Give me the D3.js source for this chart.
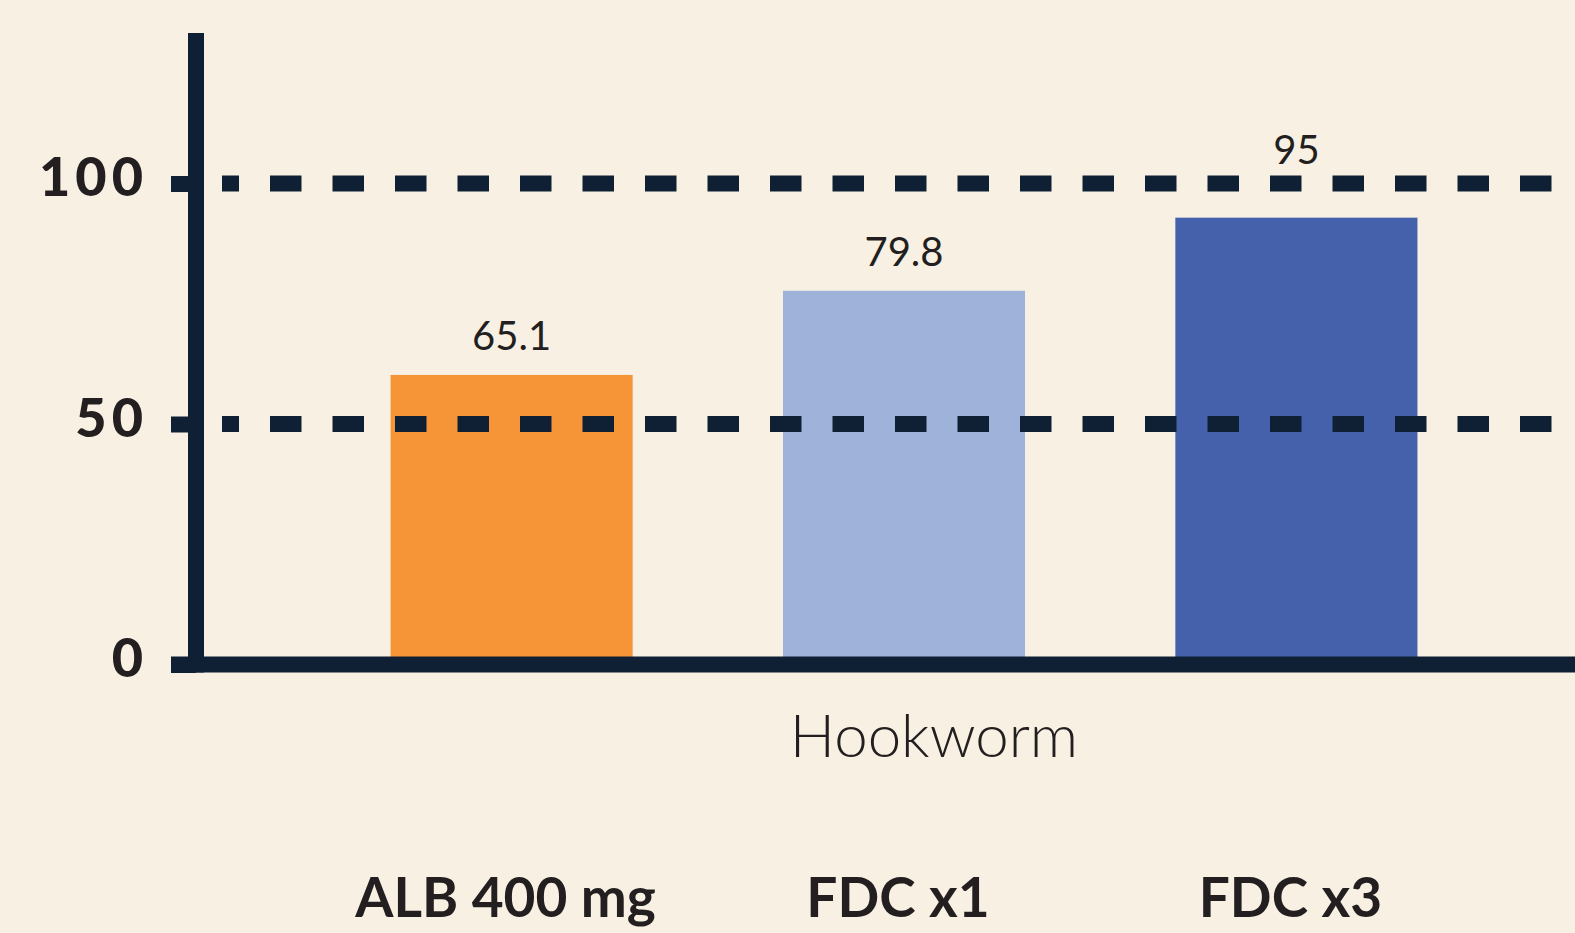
<!DOCTYPE html>
<html lang="en">
<head>
    <meta charset="UTF-8">
    <title>Hookworm</title>
    <script src="https://cdn.jsdelivr.net/npm/d3@7"></script>
    <style>
        body { margin: 0; background: #f8f1e3; }
        svg { display: block; }
    </style>
</head>
<body>
<div id="chart"></div>
<script>
    // data
    var categories = ['ALB 400 mg', 'FDC x1', 'FDC x3'];
    var barValues = [60.2, 77.7, 92.9];      // bar heights as drawn
    var valueLabels = ['65.1', '79.8', '95']; // printed labels
    var barColors = ['#f69537', '#9fb3da', '#4661ab'];
    var yTicks = [0, 50, 100];
    var groupTitle = 'Hookworm';

    var W = 1575, H = 933;
    var ink = '#0f2035', text = '#231f20';

    var svg = d3.select('#chart')
            .append('svg')
            .attr('width', W)
            .attr('height', H);

    var x = d3.scaleBand()
            .domain(categories)
            .range([316, 1492])
            .paddingInner(0.383)
            .paddingOuter(0.19);

    var y = d3.scaleLinear()
            .domain([0, 100])
            .range([664.5, 183.5]);

    // bars (drawn first, axis lines go on top)
    svg.append('g').selectAll('rect')
            .data(barValues)
            .enter()
            .append('rect')
            .attr('x', function(d, i){ return x(categories[i]); })
            .attr('width', x.bandwidth())
            .attr('y', function(d){ return y(d); })
            .attr('height', function(d){ return y(0) - y(d); })
            .attr('fill', function(d, i){ return barColors[i]; });

    // dashed gridlines
    var grid = yTicks.filter(function(t){ return t > 0; });
    svg.append('g').selectAll('line')
            .data(grid)
            .enter()
            .append('line')
            .attr('x1', 222).attr('x2', W)
            .attr('y1', function(d){ return y(d); })
            .attr('y2', function(d){ return y(d); })
            .attr('stroke', ink)
            .attr('stroke-width', 16)
            .attr('stroke-dasharray', '31.5 31')
            .attr('stroke-dashoffset', 14.5);

    // y axis with tick stubs
    var yAxis = d3.axisLeft(y)
            .tickValues(yTicks)
            .tickSize(25)
            .tickPadding(23)
            .tickFormat(d3.format('d'));

    var ya = svg.append('g')
            .attr('transform', 'translate(196,0)')
            .call(yAxis);
    ya.select('.domain').remove();
    ya.selectAll('.tick line')
            .attr('stroke', ink)
            .attr('stroke-width', 16);
    ya.selectAll('.tick text')
            .attr('fill', text)
            .attr('dy', null)
            .attr('y', 12)
            .style('font-family', 'Lato, sans-serif')
            .style('font-weight', 900)
            .style('font-size', '54px')
            .style('letter-spacing', '5px');

    svg.append('line')
            .attr('x1', 196).attr('x2', 196)
            .attr('y1', 33).attr('y2', y(0) + 8)
            .attr('stroke', ink)
            .attr('stroke-width', 16);

    svg.append('line')
            .attr('x1', 171).attr('x2', W)
            .attr('y1', y(0)).attr('y2', y(0))
            .attr('stroke', ink)
            .attr('stroke-width', 16);

    // value labels, pushed above a gridline if they would sit on it
    var labelY = function(d){
        var b = y(d) - 25;
        grid.forEach(function(g){
            var gy = y(g);
            if (b > gy - 22 && b - 30 < gy + 8) b = gy - 20;
        });
        return b;
    };

    svg.append('g').selectAll('text')
            .data(barValues)
            .enter()
            .append('text')
            .attr('x', function(d, i){ return x(categories[i]) + x.bandwidth() / 2; })
            .attr('y', labelY)
            .attr('text-anchor', 'middle')
            .attr('fill', text)
            .style('font-family', 'Lato, sans-serif')
            .style('font-size', '40px')
            .text(function(d, i){ return valueLabels[i]; });

    // group title
    svg.append('text')
            .attr('x', 934)
            .attr('y', 757)
            .attr('text-anchor', 'middle')
            .attr('fill', text)
            .style('font-family', 'Lato, sans-serif')
            .style('font-weight', 300)
            .style('font-size', '60px')
            .text(groupTitle);

    // category labels
    svg.append('g').selectAll('text')
            .data(categories)
            .enter()
            .append('text')
            .attr('x', function(d){ return x(d) + x.bandwidth() / 2 - 6; })
            .attr('y', 917)
            .attr('text-anchor', 'middle')
            .attr('fill', text)
            .style('font-family', 'Lato, sans-serif')
            .style('font-weight', 700)
            .style('font-size', '55px')
            .text(function(d){ return d; });
</script>
</body>
</html>
